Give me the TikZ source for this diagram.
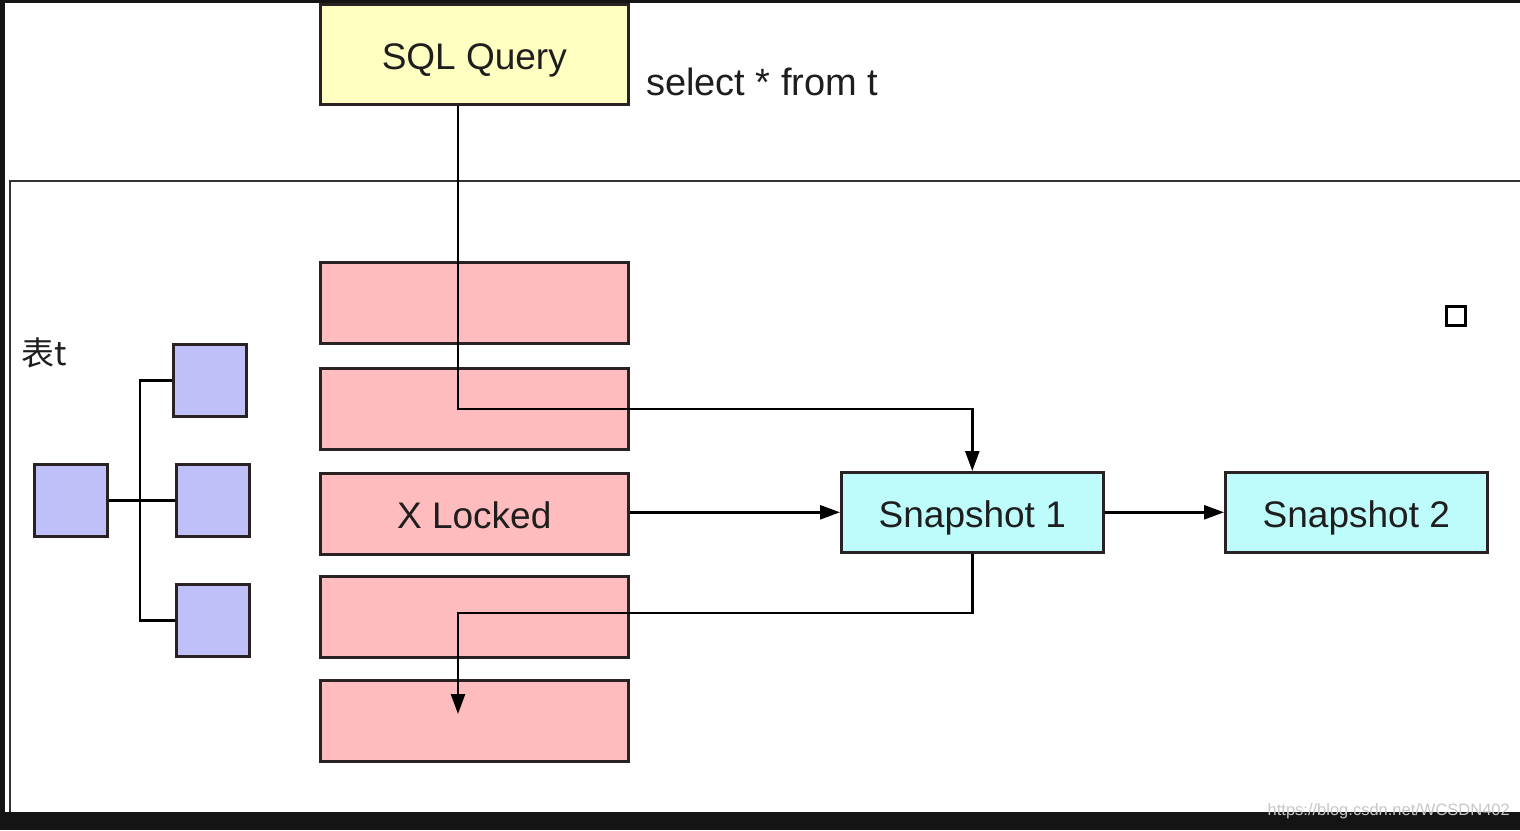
\documentclass[tikz,border=0pt]{standalone}
\usepackage{fontspec}
\setmainfont{Liberation Sans}
\newfontfamily\cjk{Noto Sans CJK SC}
\usetikzlibrary{arrows.meta}
\definecolor{qyellow}{HTML}{FFFFC2}
\definecolor{rowpink}{HTML}{FFBCBE}
\definecolor{snapcyan}{HTML}{BEFCFC}
\definecolor{leafblue}{HTML}{C0C0F8}
\definecolor{edge}{HTML}{2A2222}
\definecolor{ink}{HTML}{1E1E1E}
\tikzset{
  box/.style={draw=edge, line width=2.6pt, rectangle, inner sep=0pt, anchor=north west,
    text=ink, font=\fontsize{37}{42}\selectfont, text height=36pt, text depth=6pt},
  query/.style={box, fill=qyellow, minimum width=308pt, minimum height=100pt},
  rowbox/.style={box, fill=rowpink, minimum width=308pt, minimum height=81pt},
  snapbox/.style={box, fill=snapcyan, minimum width=262pt, minimum height=80pt},
  leaf/.style={box, fill=leafblue, minimum width=73pt, minimum height=72pt},
  wire/.style={draw=black, line width=2.5pt},
  arr/.style={wire, -{Triangle[length=20pt,width=14pt]}},
  label/.style={text=ink, inner sep=0pt, anchor=west},
}
\begin{document}
\begin{tikzpicture}[x=1pt,y=-1pt]
\useasboundingbox (0,0) rectangle (1520,830);
% screen frame
\fill[black!92] (0,0) rectangle (1520,830);
\fill[white] (5,3) rectangle (1520,812);
\draw[line width=2.4pt, draw=black!80] (10,812) -- (10,181) -- (1520,181);
% query
\node[query] (sql) at (319,3) {SQL Query};
\node[label, font=\fontsize{38}{42}\selectfont] (sel) at (646,82) {select * from t};
% rows
\node[rowbox] (r1) at (319,261) {};
\node[rowbox] (r2) at (319,367) {};
\node[rowbox] (xl) at (319,472) {X Locked};
\node[rowbox] (r4) at (319,575) {};
\node[rowbox] (r5) at (319,679) {};
% snapshots
\node[snapbox] (s1) at (840,471) {Snapshot 1};
\node[snapbox] (s2) at (1224,471) {Snapshot 2};
% table t
\node[label, font=\cjk\fontsize{33}{38}\selectfont] (tt) at (21,353) {表t};
\node[leaf] (b0) at (33,463) {};
\node[leaf] (b1) at (172,343) {};
\node[leaf] (b2) at (175,463) {};
\node[leaf] (b3) at (175,583) {};
\coordinate (jx) at (140,500);
\draw[wire] (b0.east) -- (b2.west);
\draw[wire] (b1.west) -| (jx) |- (b3.west);
% small square
\node[draw=black, line width=2.8pt, minimum size=19pt, inner sep=0pt] (sq) at (1456,316) {};
% connectors
\coordinate (cx) at (458,0);
\coordinate (t1) at (700,409);
\coordinate (t2) at (700,613);
\coordinate (tip) at (458,714);
\draw[arr] (sql.south -| cx) |- (t1) -| (s1.north);
\draw[arr] (xl.east |- s1.west) -- (s1.west);
\draw[arr] (s1.east) -- (s2.west);
\draw[arr] (s1.south) |- (t2) -| (tip);
% watermark
\node[anchor=east, inner sep=0pt, text=black!22, font=\fontsize{16.5}{20}\selectfont] (wm) at (1510,811) {https://blog.csdn.net/WCSDN402};
\end{tikzpicture}
\end{document}
